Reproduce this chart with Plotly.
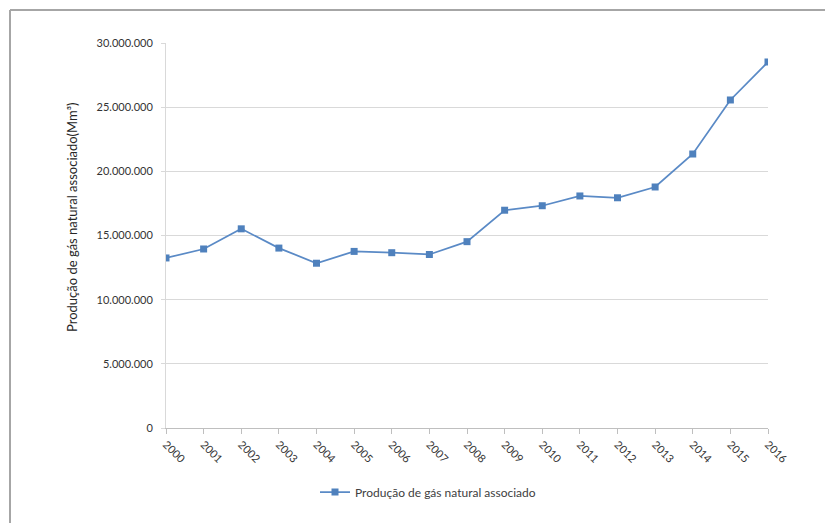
import plotly.graph_objects as go

# Annual associated natural gas production
years = [str(y) for y in range(2000, 2017)]
production = [13250000, 13950000, 15520000, 14020000, 12840000, 13760000, 13660000,
              13520000, 14520000, 16970000, 17320000, 18080000, 17940000, 18780000,
              21350000, 25560000, 28520000]

y_ticks = [0, 5000000, 10000000, 15000000, 20000000, 25000000, 30000000]
y_tick_text = ["0", "5.000.000", "10.000.000", "15.000.000", "20.000.000",
               "25.000.000", "30.000.000"]

series_name = "Produção de gás natural associado"
y_title = "Produção de gás natural associado(Mm³)"

W, H = 825, 523
L, R, T, B = 166, 57, 43, 95
pw, ph = W - L - R, H - T - B

def px_x(x):
    return (x - L) / pw

def px_y(y):
    return (H - B - y) / ph

fig = go.Figure()
fig.add_trace(go.Scatter(
    x=years, y=production, mode="lines+markers", name=series_name,
    line=dict(color="#5A8AC6", width=1.75),
    marker=dict(symbol="square", size=7, color="#4F81BD"),
))

fig.update_layout(
    width=W, height=H,
    margin=dict(l=L, r=R, t=T, b=B),
    paper_bgcolor="white", plot_bgcolor="white",
    font=dict(family="Lato, sans-serif", color="#404040"),
    showlegend=True,
    legend=dict(orientation="h", x=px_x(428), y=px_y(492), xanchor="center",
                yanchor="middle", itemwidth=30,
                font=dict(size=12, color="#404040")),
    xaxis=dict(
        type="category", range=[0, len(years) - 1],
        showline=True, linecolor="#BFBFBF", linewidth=1,
        ticks="outside", ticklen=5, tickcolor="#BFBFBF",
        tickangle=45, tickfont=dict(size=11, color="#333333"),
        showgrid=False, zeroline=False,
    ),
    yaxis=dict(
        range=[0, 30000000], tickvals=y_ticks, ticktext=y_tick_text,
        showline=True, linecolor="#D9D9D9", linewidth=1,
        ticks="outside", ticklen=4, tickcolor="#D9D9D9",
        ticklabelstandoff=6,
        tickfont=dict(size=11, color="#333333"),
        showgrid=True, gridcolor="#D9D9D9", gridwidth=1, zeroline=False,
    ),
    annotations=[dict(
        text=y_title, textangle=-90, xref="paper", yref="paper",
        x=px_x(72), y=px_y(217), xanchor="center", yanchor="middle",
        showarrow=False, font=dict(size=13, color="#262626"),
    )],
    shapes=[
        dict(type="line", xref="paper", yref="paper",
             x0=px_x(10), x1=px_x(10), y0=px_y(10), y1=px_y(H + 5),
             line=dict(color="#A6A6A6", width=2)),
        dict(type="line", xref="paper", yref="paper",
             x0=px_x(10), x1=px_x(W + 5), y0=px_y(10), y1=px_y(10),
             line=dict(color="#A6A6A6", width=2)),
    ],
)

fig.write_html("out.html")
